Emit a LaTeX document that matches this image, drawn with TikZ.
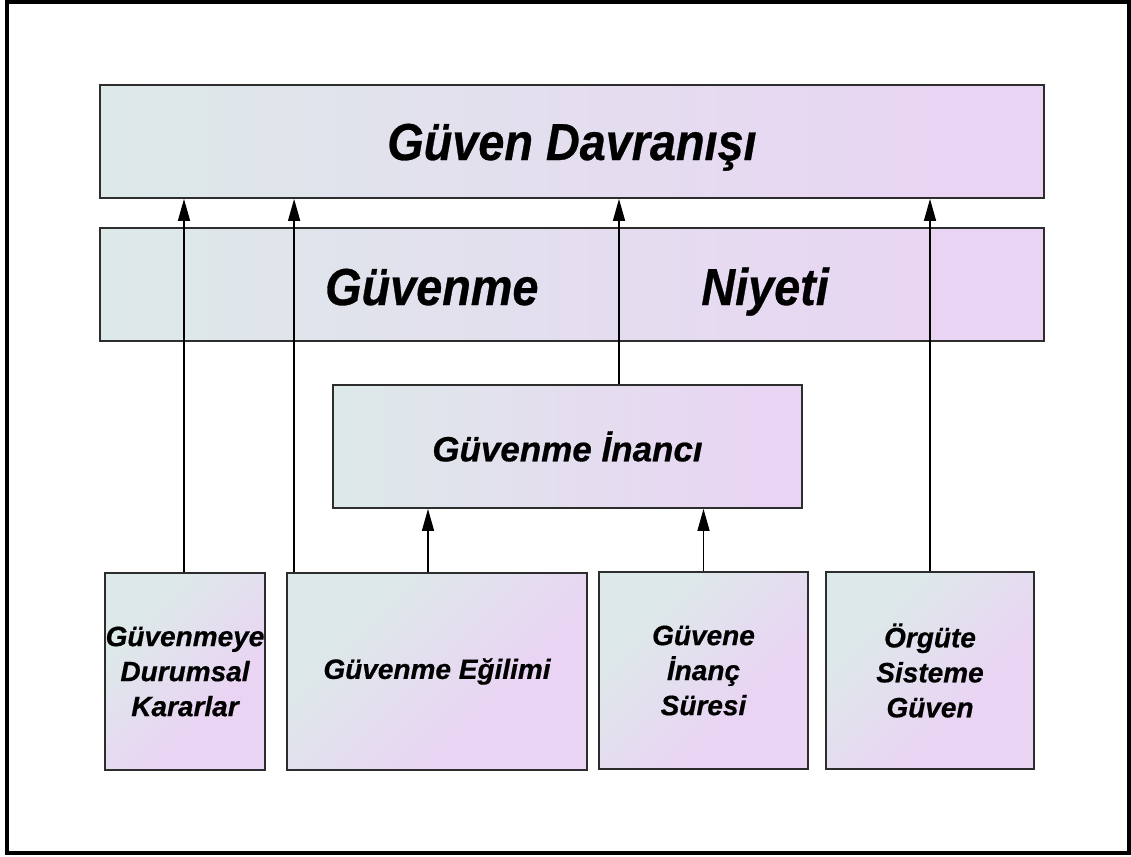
\documentclass[tikz,border=0pt]{standalone}
\usepackage{fontspec}
\setmainfont{Liberation Sans}[BoldItalicFeatures={FakeBold=0.6}]
\usetikzlibrary{arrows.meta}
\definecolor{cA}{RGB}{221,233,233}
\definecolor{cB}{RGB}{233,213,243}
\definecolor{edge}{RGB}{45,45,45}
\pgfdeclarehorizontalshading{gradh}{100bp}{color(0bp)=(cA); color(25bp)=(cA); color(70bp)=(cB); color(100bp)=(cB)}
\pgfdeclarehorizontalshading{gradd}{100bp}{color(0bp)=(cA); color(30bp)=(cA); color(62bp)=(cB); color(100bp)=(cB)}
\tikzset{
  layer/.style={draw=edge, line width=1.8pt, shading=gradh, inner sep=0pt},
  bigtext/.style={anchor=base, inner sep=0pt,
    font=\fontsize{52}{56}\selectfont\bfseries\itshape},
  midbox/.style={draw=edge, line width=1.8pt, shading=gradh, inner sep=0pt,
    font=\fontsize{35}{40}\selectfont\bfseries\itshape},
  factor/.style={draw=edge, line width=1.8pt, shading=gradd, shading angle=-45,
    inner sep=0pt, align=center,
    font=\fontsize{28}{35}\selectfont\bfseries\itshape},
  arr/.style={line width=1.5pt, -{Triangle[length=22pt,width=12pt]}}
}
\newcommand{\narrow}[1]{\scalebox{0.9}[1]{#1}}
\begin{document}
\begin{tikzpicture}[x=1pt,y=-1pt]
\useasboundingbox (0,0) rectangle (1131,856);
% outer frame
\draw[line width=3.6pt] (7,2) rectangle (1129,853);

% stacked layers
\node[layer, minimum width=944pt, minimum height=113pt] (dav) at (572,141.5) {};
\node[layer, minimum width=944pt, minimum height=113pt] (niy) at (572,284.5) {};
\node[bigtext] (davtxt) at (572,160) {\narrow{Güven Davranışı}};
\node[bigtext] (niytxt) at (577,305) {\narrow{Güvenme\hspace{181pt}Niyeti}};

% belief box
\node[midbox, minimum width=469pt, minimum height=123pt] (inan) at (567.5,446.5) {Güvenme İnancı};

% antecedent factors
\node[factor, minimum width=160pt, minimum height=197pt] (b1) at (185,671.5)
  {Güvenmeye\\Durumsal\\Kararlar};
\node[factor, minimum width=300pt, minimum height=197pt] (b2) at (437,671.5)
  {Güvenme Eğilimi};
\node[factor, minimum width=209pt, minimum height=197pt] (b3) at (703.5,670.5)
  {Güvene\\İnanç\\Süresi};
\node[factor, minimum width=208pt, minimum height=197pt] (b4) at (930,670.5)
  {Örgüte\\Sisteme\\Güven};

% connector anchors
\coordinate (p1) at ([xshift=-1pt]b1.north);
\coordinate (p2) at ([xshift=8pt]b2.north west);
\coordinate (p3) at ([xshift=-9pt]b2.north);
\coordinate (p4) at (b3.north);
\coordinate (p5) at ([xshift=51.5pt]inan.north);
\coordinate (p6) at (b4.north);

% connectors
\draw[arr] (p1) -- (p1 |- dav.south);
\draw[arr] (p2) -- (p2 |- dav.south);
\draw[arr] (p3) -- (p3 |- inan.south);
\draw[arr] (p4) -- (p4 |- inan.south);
\draw[arr] (p5) -- (p5 |- dav.south);
\draw[arr] (p6) -- (p6 |- dav.south);
\end{tikzpicture}
\end{document}
